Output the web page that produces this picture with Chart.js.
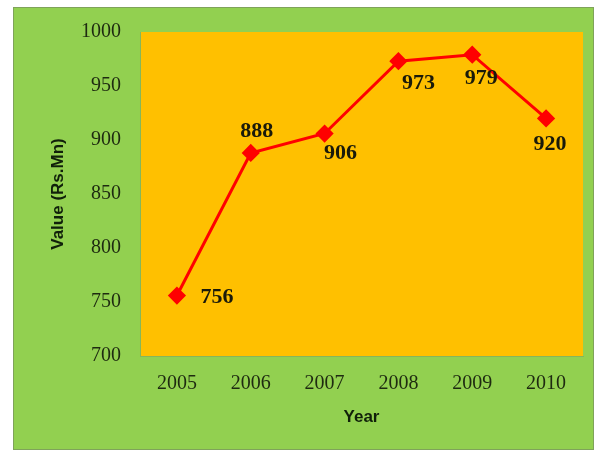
<!DOCTYPE html>
<html>
<head>
<meta charset="utf-8">
<script src="https://cdn.jsdelivr.net/npm/chart.js@4.4.1/dist/chart.umd.min.js"></script>
<style>
  body { margin: 0; background: #ffffff; }
  #box {
    position: absolute; left: 13px; top: 7px;
    width: 579px; height: 441px;
    background: #92d050;
    border: 1px solid #7fa35a;
  }
</style>
</head>
<body>
<div id="box"><canvas id="chart" width="579" height="441"></canvas></div>
<script>
// chart data
const years = ["2005", "2006", "2007", "2008", "2009", "2010"];
const values = [756, 888, 906, 973, 979, 920];

// where each value label sits relative to its point (dx, dy in px)
const labelOffsets = [[40, 2], [6, -22], [16, 20], [20, 22], [9, 24], [4, 26]];

// paints the orange plot area
const plotBackground = {
    id: "plotBackground",
    beforeDraw(chart) {
        const { ctx, chartArea: a } = chart;
        ctx.save();
        ctx.fillStyle = "#ffc000";
        ctx.fillRect(a.left, a.top, a.right - a.left, a.bottom - a.top);
        ctx.restore();
    }
};

// simple data labels (no datalabels plugin available)
const valueLabels = {
    id: "valueLabels",
    afterDatasetsDraw(chart) {
        const ctx = chart.ctx;
        const meta = chart.getDatasetMeta(0);
        ctx.save();
        ctx.font = "bold 22px 'Liberation Serif'";
        ctx.fillStyle = "#1a1a0a";
        ctx.textAlign = "center";
        ctx.textBaseline = "middle";
        meta.data.forEach((pt, i) => {
            const [dx, dy] = labelOffsets[i];
            ctx.fillText(String(values[i]), pt.x + dx, pt.y + dy);
        });
        ctx.restore();
    }
};

new Chart(document.getElementById("chart"), {
    type: "line",
    data: {
        labels: years,
        datasets: [{
            data: values,
            borderColor: "#ff0000",
            borderWidth: 3,
            backgroundColor: "#ff0000",
            pointStyle: "rectRot",
            pointRadius: 7,
            pointHoverRadius: 7,
            tension: 0
        }]
    },
    options: {
        responsive: false,
        animation: false,
        layout: { padding: { top: 24, right: 9, left: 0, bottom: 0 } },
        plugins: { legend: { display: false }, tooltip: { enabled: false } },
        scales: {
            x: {
                offset: true,
                grid: { display: false, drawTicks: false },
                border: { display: true, color: "#86b65a" },
                ticks: {
                    color: "#1e2a10",
                    font: { family: "'Liberation Serif'", size: 20 },
                    padding: 16
                },
                title: {
                    display: true, text: "Year", color: "#10200a",
                    font: { family: "'Liberation Sans'", size: 17, weight: "bold" },
                    padding: { top: 10, bottom: 21 }
                },
                afterFit(scale) { scale.height = 93; }
            },
            y: {
                min: 700, max: 1000,
                grid: { display: false, drawTicks: false },
                border: { display: true, color: "#86b65a" },
                ticks: {
                    stepSize: 50,
                    color: "#1e2a10",
                    font: { family: "'Liberation Serif'", size: 20 },
                    padding: 19,
                    callback: (v) => String(v)
                },
                title: {
                    display: true, text: "Value (Rs.Mn)", color: "#10200a",
                    font: { family: "'Liberation Sans'", size: 17, weight: "bold" },
                    padding: { top: 34, bottom: 8 }
                },
                afterFit(scale) {
                    scale.width = 126;
                    scale.paddingTop = 0;
                    scale.paddingBottom = 0;
                }
            }
        }
    },
    plugins: [plotBackground, valueLabels]
});
</script>
</body>
</html>
